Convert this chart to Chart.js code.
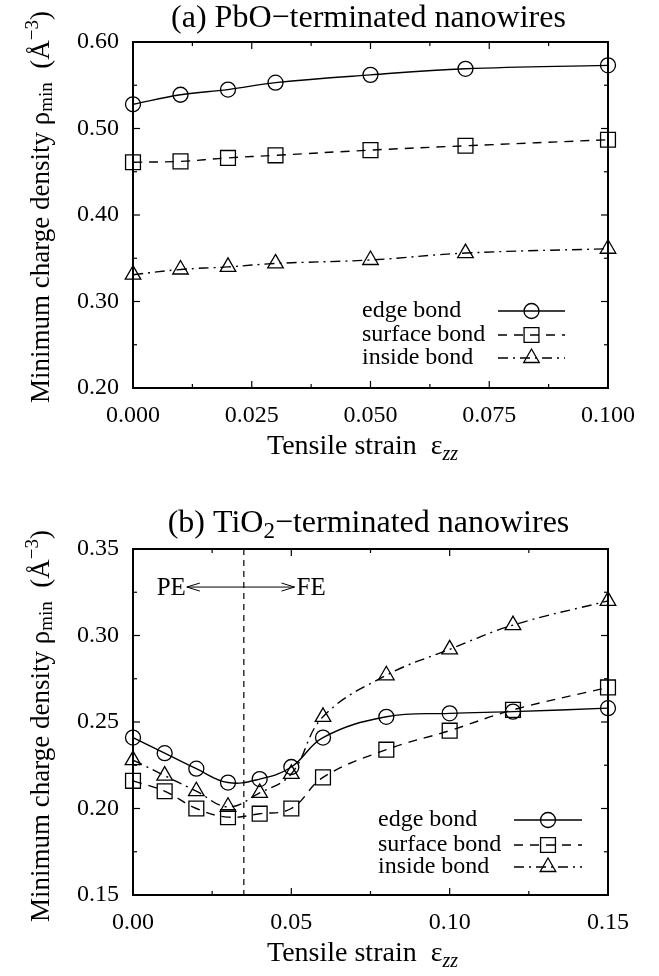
<!DOCTYPE html>
<html>
<head>
<meta charset="utf-8">
<script src="https://cdn.jsdelivr.net/npm/chart.js@4.4.0/dist/chart.umd.min.js"></script>
<style>
  html, body { margin: 0; padding: 0; background: #fff; }
  .panel { position: absolute; left: 0; width: 659px; height: 488px; }
</style>
</head>
<body>
<div class="panel" style="top:0"><canvas id="chartA" width="659" height="488"></canvas></div>
<div class="panel" style="top:488px"><canvas id="chartB" width="659" height="488"></canvas></div>
<script>
const FONT = "'Liberation Serif', 'DejaVu Serif', serif";
Chart.defaults.font.family = FONT;
Chart.defaults.color = '#000';

// (a) PbO-terminated
const strainA = [0.000, 0.010, 0.020, 0.030, 0.050, 0.070, 0.100];
const edgeA = [0.528, 0.539, 0.545, 0.553, 0.562, 0.569, 0.573];
const surfaceA = [0.461, 0.462, 0.466, 0.469, 0.475, 0.480, 0.487];
const insideA = [0.331, 0.337, 0.340, 0.344, 0.348, 0.356, 0.361];

// (b) TiO2-terminated
const strainB = [0.00, 0.01, 0.02, 0.03, 0.04, 0.05, 0.06, 0.08, 0.10, 0.12, 0.15];
const edgeB = [0.241, 0.232, 0.223, 0.215, 0.217, 0.224, 0.241, 0.253, 0.255, 0.256, 0.258];
const surfaceB = [0.216, 0.210, 0.200, 0.195, 0.197, 0.200, 0.218, 0.234, 0.245, 0.257, 0.270];
const insideB = [0.228, 0.219, 0.210, 0.201, 0.209, 0.220, 0.253, 0.277, 0.292, 0.306, 0.320];

const seriesNames = ['edge bond', 'surface bond', 'inside bond'];

// PE / FE boundary in panel (b)
const phaseBoundary = 0.035;
const arrowFrom = 0.017, arrowTo = 0.051, arrowLevel = 0.328;

const styles = [
  { pointStyle: 'circle', radius: 7.5, dash: [] },
  { pointStyle: 'rect', radius: 10.5, dash: [9, 7] },
  { pointStyle: 'triangle', radius: 9, dash: [10, 5, 2, 5] }
];

function makeDatasets(xs, series) {
  return series.map((vals, i) => ({
    label: seriesNames[i],
    data: xs.map((x, j) => ({ x: x, y: vals[j] })),
    borderColor: '#000',
    borderWidth: 1.4,
    borderDash: styles[i].dash,
    pointStyle: styles[i].pointStyle,
    pointRadius: styles[i].radius,
    pointBorderColor: '#000',
    pointBackgroundColor: 'rgba(0,0,0,0)',
    pointBorderWidth: 1.3,
    tension: 0.4,
    clip: false,
    fill: false
  }));
}

function fontOf(size, italic) {
  return (italic ? 'italic ' : '') + Math.round(size) + 'px ' + FONT;
}

// pieces: [text, scale, dy (em), italic]
function drawRich(ctx, pieces, x, y, size) {
  const widths = pieces.map(p => { ctx.font = fontOf(size * p[1], p[3]); return ctx.measureText(p[0]).width; });
  const total = widths.reduce((a, b) => a + b, 0);
  let cx = x - total / 2;
  ctx.textAlign = 'left';
  ctx.textBaseline = 'alphabetic';
  pieces.forEach((p, i) => {
    ctx.font = fontOf(size * p[1], p[3]);
    ctx.fillText(p[0], cx, y + p[2] * size);
    cx += widths[i];
  });
}

function marker(ctx, style, r, x, y) {
  ctx.beginPath();
  if (style === 'circle') {
    ctx.arc(x, y, r, 0, Math.PI * 2);
  } else if (style === 'rect') {
    const s = r * Math.SQRT1_2;
    ctx.rect(x - s, y - s, 2 * s, 2 * s);
  } else {
    ctx.moveTo(x, y - r);
    ctx.lineTo(x + r * Math.sin(2 * Math.PI / 3), y - r * Math.cos(2 * Math.PI / 3));
    ctx.lineTo(x + r * Math.sin(4 * Math.PI / 3), y - r * Math.cos(4 * Math.PI / 3));
    ctx.closePath();
  }
  ctx.stroke();
}

const decor = {
  id: 'decor',
  beforeDatasetsDraw(chart, args, o) {
    const { ctx, chartArea: a, scales: { x, y } } = chart;
    ctx.save();
    ctx.strokeStyle = '#000';
    ctx.lineWidth = 1.2;
    const seg = (x1, y1, x2, y2) => { ctx.beginPath(); ctx.moveTo(x1, y1); ctx.lineTo(x2, y2); ctx.stroke(); };
    const isMajor = (v, step) => Math.abs(v / step - Math.round(v / step)) < 1e-6;
    for (let k = 0; x.min + k * o.minorX <= x.max + 1e-9; k++) {
      const v = x.min + k * o.minorX;
      const len = isMajor(v, o.majorX) ? 7 : 4;
      const px = x.getPixelForValue(v);
      seg(px, a.bottom, px, a.bottom - len);
      seg(px, a.top, px, a.top + len);
    }
    for (let k = 0; y.min + k * o.minorY <= y.max + 1e-9; k++) {
      const v = y.min + k * o.minorY;
      const len = isMajor(v, o.majorY) ? 7 : 4;
      const py = y.getPixelForValue(v);
      seg(a.left, py, a.left + len, py);
      seg(a.right, py, a.right - len, py);
    }
    ctx.lineWidth = 2;
    ctx.strokeRect(a.left, a.top, a.right - a.left, a.bottom - a.top);
    if (o.extra) o.extra(chart, seg);
    ctx.restore();
  },
  afterDraw(chart, args, o) {
    const { ctx, chartArea: a } = chart;
    ctx.save();
    ctx.fillStyle = '#000';
    ctx.strokeStyle = '#000';
    const midX = (a.left + a.right) / 2;
    drawRich(ctx, o.title, midX - 2, o.titleY, 32);
    drawRich(ctx, [['Tensile strain  ε', 1, 0, false], ['zz', 0.72, 0.2, true]], midX - 8, a.bottom + 66, 28);
    // y axis title, rotated
    ctx.save();
    ctx.translate(49, o.yTitleY);
    ctx.rotate(-Math.PI / 2);
    drawRich(ctx, [
      ['Minimum charge density ρ', 1, 0, false],
      ['min', 0.72, 0.12, false],
      ['  (Å', 1, 0, false],
      ['−3', 0.72, -0.42, false],
      [')', 1, 0, false]
    ], 0, 0, 27);
    ctx.restore();
    // legend
    const L = o.legend;
    chart.data.datasets.forEach((ds, i) => {
      const yy = L.rows[i];
      ctx.font = fontOf(24);
      ctx.textAlign = 'left';
      ctx.textBaseline = 'middle';
      ctx.fillText(ds.label, L.textX, yy);
      ctx.lineWidth = ds.borderWidth;
      ctx.setLineDash(ds.borderDash);
      ctx.beginPath(); ctx.moveTo(L.x1, yy); ctx.lineTo(L.x2, yy); ctx.stroke();
      ctx.setLineDash([]);
      ctx.lineWidth = ds.pointBorderWidth;
      marker(ctx, ds.pointStyle, ds.pointRadius, (L.x1 + L.x2) / 2, yy);
    });
    ctx.restore();
  }
};

function makeChart(id, xs, series, cfg) {
  return new Chart(document.getElementById(id), {
    type: 'line',
    data: { datasets: makeDatasets(xs, series) },
    plugins: [decor],
    options: {
      responsive: false,
      animation: false,
      events: [],
      layout: { padding: { left: 0, right: 51, top: cfg.plotTop, bottom: 0 } },
      plugins: {
        legend: { display: false },
        tooltip: { enabled: false },
        decor: cfg.decor
      },
      scales: {
        x: {
          type: 'linear',
          min: cfg.xMin, max: cfg.xMax,
          grid: { display: false, drawTicks: false },
          border: { display: false },
          ticks: { stepSize: cfg.decor.majorX, padding: 13, font: { size: 24 }, color: '#000',
                   maxRotation: 0, callback: v => v.toFixed(cfg.xDigits) },
          afterFit: s => { s.height = 488 - cfg.plotBottom; }
        },
        y: {
          min: cfg.yMin, max: cfg.yMax,
          grid: { display: false, drawTicks: false },
          border: { display: false },
          ticks: { stepSize: cfg.decor.majorY, padding: 14, font: { size: 24 }, color: '#000',
                   callback: v => v.toFixed(2) },
          afterFit: s => { s.width = 133; }
        }
      }
    }
  });
}

makeChart('chartA', strainA, [edgeA, surfaceA, insideA], {
  plotTop: 42, plotBottom: 388,
  xMin: 0, xMax: 0.1, yMin: 0.2, yMax: 0.6, xDigits: 3,
  decor: {
    majorX: 0.025, minorX: 0.0125, majorY: 0.1, minorY: 0.05,
    title: [['(a) PbO−terminated nanowires', 1, 0, false]],
    titleY: 27, yTitleY: 207,
    legend: { textX: 362, x1: 498, x2: 565, rows: [311, 335, 358] }
  }
});

makeChart('chartB', strainB, [edgeB, surfaceB, insideB], {
  plotTop: 61, plotBottom: 407,
  xMin: 0, xMax: 0.15, yMin: 0.15, yMax: 0.35, xDigits: 2,
  decor: {
    majorX: 0.05, minorX: 0.025, majorY: 0.05, minorY: 0.025,
    title: [['(b) TiO', 1, 0, false], ['2', 0.72, 0.2, false], ['−terminated nanowires', 1, 0, false]],
    titleY: 44, yTitleY: 238,
    legend: { textX: 378, x1: 514, x2: 582, rows: [332, 357, 379] },
    extra: (chart, seg) => {
      const { ctx, chartArea: a, scales: { x, y } } = chart;
      const bx = x.getPixelForValue(phaseBoundary);
      ctx.lineWidth = 1.2;
      ctx.setLineDash([6, 5]);
      seg(bx, a.top, bx, a.bottom);
      ctx.setLineDash([]);
      const x1 = x.getPixelForValue(arrowFrom), x2 = x.getPixelForValue(arrowTo);
      const ay = y.getPixelForValue(arrowLevel);
      ctx.lineWidth = 1;
      seg(x1, ay, x2, ay);
      seg(x1, ay, x1 + 13, ay - 4); seg(x1, ay, x1 + 13, ay + 4);
      seg(x2, ay, x2 - 13, ay - 4); seg(x2, ay, x2 - 13, ay + 4);
      ctx.fillStyle = '#000';
      ctx.font = fontOf(25);
      ctx.textBaseline = 'middle';
      ctx.textAlign = 'right';
      ctx.fillText('PE', x1 - 1, ay + 1);
      ctx.textAlign = 'left';
      ctx.fillText('FE', x2 + 2, ay + 1);
    }
  }
});
</script>
</body>
</html>
